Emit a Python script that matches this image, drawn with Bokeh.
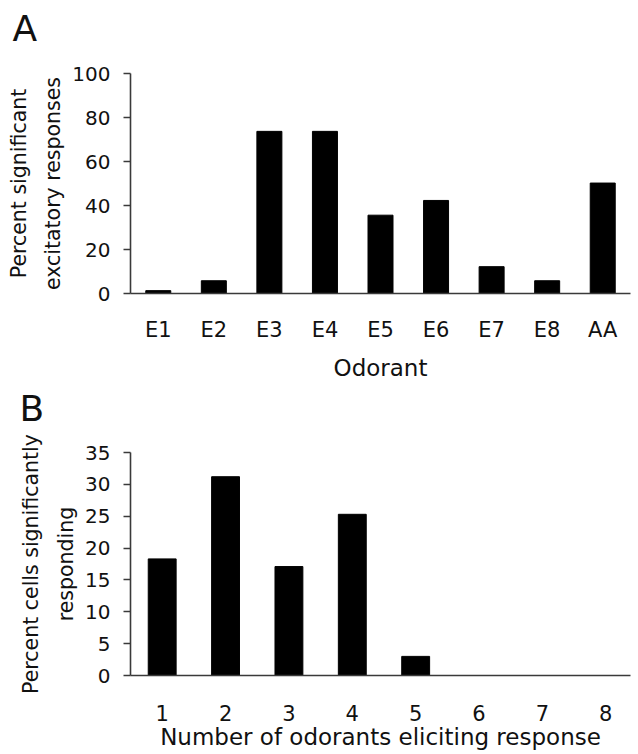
from bokeh.plotting import figure
from bokeh.layouts import column
from bokeh.models import Range1d, FactorRange, FixedTicker, Title
from bokeh.embed import file_html
from bokeh.resources import INLINE

# ---- data ----
odorants = ["E1", "E2", "E3", "E4", "E5", "E6", "E7", "E8", "AA"]
pct_excitatory = [1.3, 5.8, 73.7, 73.7, 35.6, 42.3, 12.2, 5.8, 50.2]
a_yticks = [0, 20, 40, 60, 80, 100]

n_odorants = [1, 2, 3, 4, 5, 6, 7, 8]
pct_cells = [18.3, 31.2, 17.1, 25.3, 3.0, 0, 0, 0]
b_yticks = [0, 5, 10, 15, 20, 25, 30, 35]

FONT = "DejaVu Sans"
AXIS_COLOR = "#3a3a3a"
TEXT_COLOR = "#111111"


def style(p, yticks, panel_letter, offset, spacer_standoff):
    p.grid.visible = False
    p.outline_line_color = None
    p.background_fill_color = "white"
    p.border_fill_color = "white"
    p.yaxis.ticker = FixedTicker(ticks=yticks, minor_ticks=[])
    for ax in (p.xaxis[0], p.yaxis[0]):
        ax.axis_line_color = AXIS_COLOR
        ax.axis_line_width = 1.6
        ax.major_tick_line_color = AXIS_COLOR
        ax.major_tick_line_width = 1.6
        ax.minor_tick_line_color = None
        ax.major_tick_in = 0
        ax.major_label_text_font = FONT
        ax.major_label_text_color = TEXT_COLOR
        ax.axis_label_text_font = FONT
        ax.axis_label_text_font_style = "normal"
        ax.axis_label_text_color = TEXT_COLOR
    p.yaxis.major_tick_out = 7
    p.yaxis.major_label_text_font_size = "20px"
    p.yaxis.major_label_standoff = 13
    p.yaxis.axis_label_text_font_size = "20.5px"
    p.yaxis.axis_label_text_line_height = 1.45
    p.yaxis.axis_label_standoff = 4
    p.xaxis.major_tick_out = 0
    p.xaxis.major_tick_line_color = None
    p.xaxis.major_label_text_font_size = "21px"
    p.xaxis.axis_label_text_font_size = "23px"
    p.title.text = panel_letter
    p.title.align = "left"
    p.title.vertical_align = "top"
    p.title.offset = offset
    p.title.standoff = 0
    p.title.text_font = FONT
    p.title.text_font_size = "36px"
    p.title.text_font_style = "normal"
    p.title.text_color = TEXT_COLOR
    # blank spacer between the panel letter and the plot frame
    p.add_layout(Title(text=" ", text_font_size="10px", standoff=spacer_standoff),
                 "above")


# ---- Panel A ----
pA = figure(x_range=FactorRange(*odorants), y_range=Range1d(0, 100),
            width=638, height=383, output_backend="svg", toolbar_location=None,
            min_border_left=128, min_border_right=8, min_border_top=73,
            min_border_bottom=87)
pA.vbar(x=odorants, top=pct_excitatory, width=0.45, fill_color="black",
        line_color="black")
style(pA, a_yticks, "A", -118, 10)
pA.yaxis.axis_label = "Percent significant\nexcitatory responses"
pA.xaxis.axis_label = "Odorant"
pA.xaxis.major_label_standoff = 24
pA.xaxis.axis_label_standoff = 10

# ---- Panel B ----
pB = figure(x_range=Range1d(0.5, 8.39), y_range=Range1d(0, 35),
            width=638, height=371, output_backend="svg", toolbar_location=None,
            min_border_left=130, min_border_right=0, min_border_top=69,
            min_border_bottom=79)
pB.vbar(x=n_odorants, top=pct_cells, width=0.44, fill_color="black",
        line_color="black")
style(pB, b_yticks, "B", -111, 9)
pB.xaxis.ticker = FixedTicker(ticks=n_odorants, minor_ticks=[])
pB.yaxis.axis_label = "Percent cells significantly\nresponding"
pB.xaxis.axis_label = "Number of odorants eliciting response"
pB.xaxis.major_label_standoff = 29
pB.xaxis.axis_label_standoff = 0

layout = column(pA, pB, spacing=0)
open("out.html", "w").write(file_html(layout, INLINE))
